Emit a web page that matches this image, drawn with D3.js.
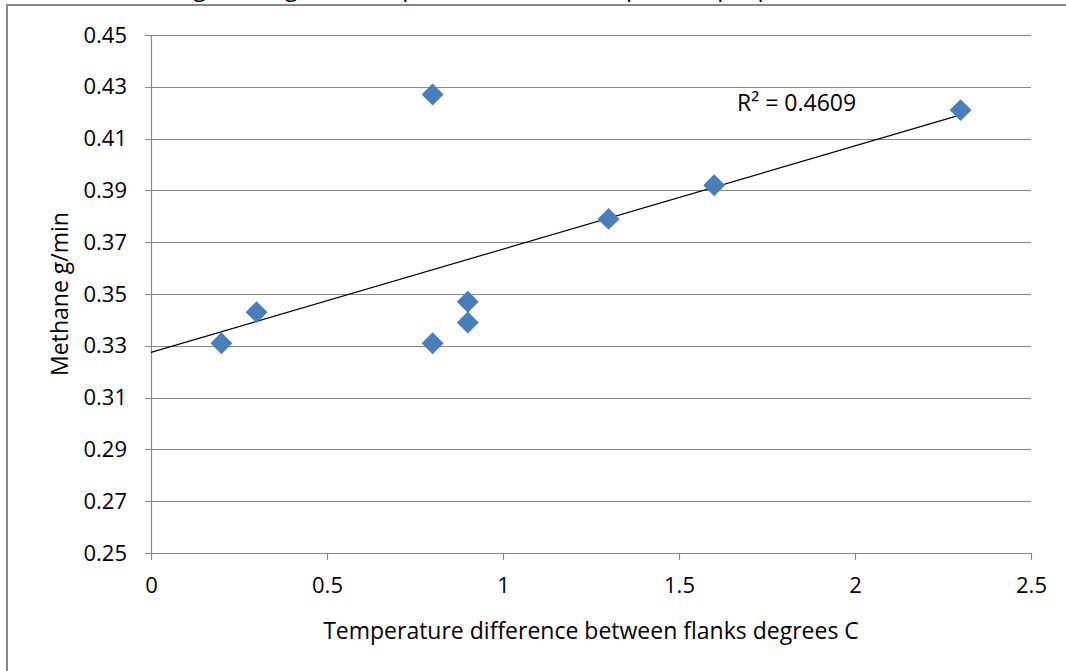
<!DOCTYPE html>
<html>
<head>
<meta charset="utf-8">
<script src="https://cdn.jsdelivr.net/npm/d3@7"></script>
<style>
  body { margin: 0; background: #fff; }
  text { font-family: "Open Sans", "Liberation Sans", sans-serif; fill: #000; }
</style>
</head>
<body>
<div id="chart"></div>
<script>
// data
const tempDiff = [0.2, 0.3, 0.8, 0.8, 0.9, 0.9, 1.3, 1.6, 2.3]
const methane = [0.331, 0.343, 0.331, 0.427, 0.347, 0.339, 0.379, 0.392, 0.421]
const xTicks = [0, 0.5, 1, 1.5, 2, 2.5]
const yTicks = [0.25, 0.27, 0.29, 0.31, 0.33, 0.35, 0.37, 0.39, 0.41, 0.43, 0.45]
const rSquared = "0.4609"

const W = 1066, H = 671
const margin = { top: 35, right: 35, bottom: 118, left: 151 }
const width = W - margin.left - margin.right
const height = H - margin.top - margin.bottom

const svg = d3.select("#chart").append("svg")
    .attr("width", W)
    .attr("height", H)

// title, mostly cut off above the frame
svg.append("text")
    .attr("x", 80).attr("y", -4)
    .style("font-size", "24px")
    .text("Methane (g/min) against temperature difference per sample period")

// outer frame (chart area border, top cut off)
svg.append("rect")
    .attr("x", 7).attr("y", 5)
    .attr("width", W + 20).attr("height", H + 20)
    .attr("fill", "#fff")
    .attr("stroke", "#888")
    .attr("stroke-width", 2)

const g = svg.append("g")
    .attr("transform", "translate(" + margin.left + "," + margin.top + ")")

const x = d3.scaleLinear().domain([0, 2.5]).range([0, width])
const y = d3.scaleLinear().domain([0.25, 0.45]).range([height, 0])

// gridlines
g.append("g")
    .selectAll("line")
    .data(yTicks)
    .enter()
    .append("line")
    .attr("x1", -6).attr("x2", width)
    .attr("y1", d => Math.round(y(d)) + 0.5)
    .attr("y2", d => Math.round(y(d)) + 0.5)
    .attr("stroke", "#888")
    .attr("stroke-width", 1.2)

// axes
const yAxis = d3.axisLeft(y).tickValues(yTicks).tickFormat(d3.format(".2f")).tickSize(6).tickPadding(18)
const xAxis = d3.axisBottom(x).tickValues(xTicks).tickFormat(d => d3.format("")(d)).tickSize(7).tickPadding(17)

const ya = g.append("g").call(yAxis)
ya.select(".domain").remove()
ya.selectAll("line").remove()
g.append("line")
    .attr("x1", 0.5).attr("x2", 0.5).attr("y1", 0).attr("y2", height)
    .attr("stroke", "#888").attr("stroke-width", 1.2)
ya.selectAll("text").style("font-size", "22px").attr("fill", "#000")

const xa = g.append("g").attr("transform", "translate(0," + height + ")").call(xAxis)
xa.select(".domain").remove()
xa.selectAll("line").attr("stroke", "#888").attr("stroke-width", 1.2)
xa.selectAll("text").style("font-size", "22px").attr("fill", "#000")

// axis titles
svg.append("text")
    .attr("x", 591).attr("y", 639)
    .attr("text-anchor", "middle")
    .style("font-size", "23px")
    .text("Temperature difference between flanks degrees C")

svg.append("text")
    .attr("transform", "translate(68,294) rotate(-90)")
    .attr("text-anchor", "middle")
    .style("font-size", "23px")
    .text("Methane g/min")

// linear trendline
const points = tempDiff.map((t, i) => ({ x: t, y: methane[i] }))
const mx = d3.mean(points, d => d.x), my = d3.mean(points, d => d.y)
const slope = d3.sum(points, d => (d.x - mx) * (d.y - my)) / d3.sum(points, d => (d.x - mx) ** 2)
const intercept = my - slope * mx
const xMax = d3.max(tempDiff)

g.append("line")
    .attr("x1", x(0)).attr("y1", y(intercept))
    .attr("x2", x(xMax)).attr("y2", y(intercept + slope * xMax))
    .attr("stroke", "#000")
    .attr("stroke-width", 1.2)

// markers
g.selectAll(".pt")
    .data(points)
    .enter()
    .append("path")
    .attr("class", "pt")
    .attr("d", d3.symbol(d3.symbolSquare, 240))
    .attr("transform", d => "translate(" + x(d.x) + "," + y(d.y) + ") rotate(45)")
    .attr("fill", "#4a7ebb")

// R squared label
svg.append("text")
    .attr("x", 737).attr("y", 111)
    .style("font-size", "23px")
    .text("R² = " + rSquared)
</script>
</body>
</html>
